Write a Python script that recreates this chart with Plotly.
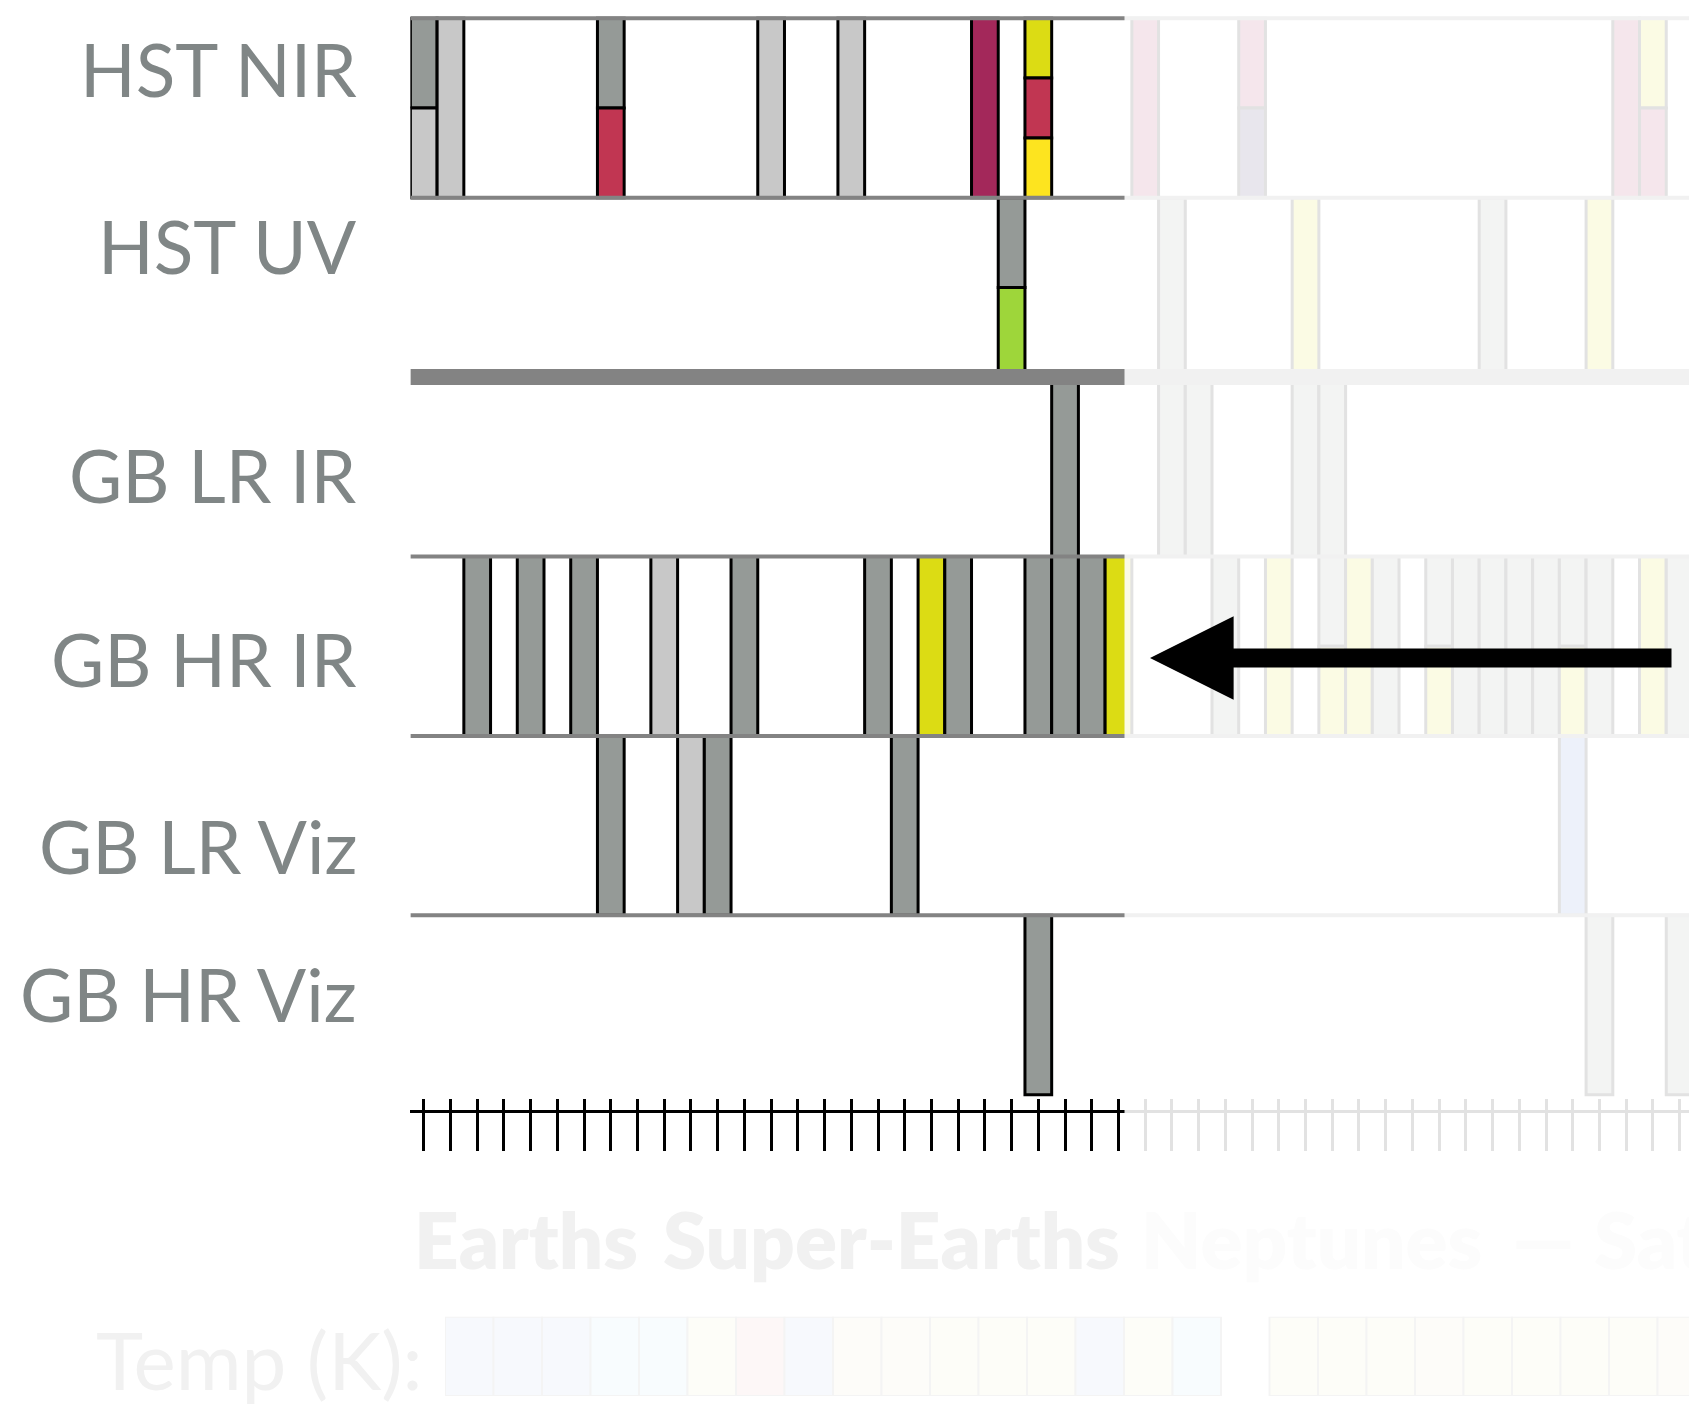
import plotly.graph_objects as go

# ---------------- data ----------------
ROW_LABELS = ["HST NIR", "HST UV", "GB LR IR", "GB HR IR", "GB LR Viz", "GB HR Viz"]
N_COLUMNS = 48
COLUMNS = list(range(N_COLUMNS))

# per row: occupied column indices and fill codes (stacked top -> bottom, "/" separated)
HST_NIR_COLS = [0, 1, 7, 13, 16, 21, 23, 27, 31, 45, 46]
HST_NIR_FILL = ["g/l", "l", "g/c", "l", "l", "m", "o/c/y", "m", "m/p", "m", "o/m"]

HST_UV_COLS = [22, 28, 33, 40, 44]
HST_UV_FILL = ["g/v", "g", "o", "g", "o"]

GB_LR_IR_COLS = [24, 28, 29, 33, 34]
GB_LR_IR_FILL = ["g", "g", "g", "g", "g"]

GB_HR_IR_COLS = [2, 4, 6, 9, 12, 17, 19, 20, 23, 24, 25, 26,
                 30, 32, 34, 35, 36, 38, 39, 40, 41, 42, 43, 44, 46, 47]
GB_HR_IR_FILL = ["g", "g", "g", "l", "g", "g", "o", "g", "g", "g", "g", "o",
                 "g", "o", "g/o", "o", "g", "g/o", "g", "g", "g", "g", "g/o", "g", "o", "g"]

GB_LR_VIZ_COLS = [7, 10, 11, 18, 43]
GB_LR_VIZ_FILL = ["g", "l", "g", "g", "b"]

GB_HR_VIZ_COLS = [23, 44, 47]
GB_HR_VIZ_FILL = ["g", "g", "g"]

ROWS = [
    (HST_NIR_COLS, HST_NIR_FILL),
    (HST_UV_COLS, HST_UV_FILL),
    (GB_LR_IR_COLS, GB_LR_IR_FILL),
    (GB_HR_IR_COLS, GB_HR_IR_FILL),
    (GB_LR_VIZ_COLS, GB_LR_VIZ_FILL),
    (GB_HR_VIZ_COLS, GB_HR_VIZ_FILL),
]

RULED_BOUNDARIES = [0, 1, 2, 3, 4, 5]
HEAVY_BOUNDARY = 2

CLASS_LABELS = ["Earths", "Super-Earths", "Neptunes", "—", "Saturns"]

TEMP_CLASS = ["cold", "cold", "cold", "cool", "cool", "mild", "hot", "cold",
              "warm", "warm", "mild", "mild", "mild", "cold", "mild", "cool",
              None, "mild", "mild", "mild", "warm", "mild", "mild", "mild", "mild", "warm"]

# ---------------- style ----------------
W, H = 1689, 1412
PALETTE = {
    "g": "#959a97", "l": "#c8c8c8", "c": "#c13652", "m": "#a3285a",
    "o": "#dcdc14", "y": "#fde41f", "v": "#9ed63a", "p": "#3a2a62", "b": "#6083d2",
}
TEMP_COLORS = {"cold": "#b8caed", "cool": "#c1e0f4", "mild": "#ededc1",
               "warm": "#ede4ca", "hot": "#edb8b8"}
LABEL_COLOR = "#808686"
FONT = "Lato"

PLOT_LEFT_PX = 410.4
COL_W_PX = 26.72
ROW_TOP_PX = 18.3
ROW_H_PX = 179.4
AXIS_PX = 1110.0
FADE_X_PX = 1124.5
FADE_Y_PX = 1170.0
LABEL_RIGHT_PX = 358.5
LABEL_OFFSET = [0.285, 0.27, 0.548, 0.573, 0.614, 0.44]
CLASS_X_PX = [412, 661, 1139, 1510, 1592]
CLASS_COLORS = ["#f1f1f1", "#f1f1f1", "#fcfcfc", "#fcfcfc", "#fcfcfc"]
CLASS_Y_PX = 1239
TEMP_LABEL_Y_PX = 1359
STRIP_LEFT_PX, STRIP_CELL_PX = 445.0, 48.5
STRIP_TOP_PX, STRIP_BOT_PX = 1316.7, 1396.0

x_lo = -0.5
x_hi = -0.5 + (W - PLOT_LEFT_PX) / COL_W_PX
y_top = -ROW_TOP_PX / ROW_H_PX
y_bot = (AXIS_PX - ROW_TOP_PX) / ROW_H_PX

fig = go.Figure()

# cells
xs, bases, hs, cols = [], [], [], []
for r, (cc, ff) in enumerate(ROWS):
    for c, f in zip(cc, ff):
        parts = f.split("/")
        n = len(parts)
        for k, p in enumerate(parts):
            xs.append(c)
            bases.append(r + k / n)
            hs.append(1.0 / n)
            cols.append(PALETTE[p])

fig.add_trace(go.Bar(
    x=xs, y=hs, base=bases, width=[1.0] * len(xs),
    marker=dict(color=cols, line=dict(color="black", width=3)),
    showlegend=False, hoverinfo="skip",
))

# row rules
for b in RULED_BOUNDARIES:
    fig.add_trace(go.Scatter(
        x=[x_lo, x_hi], y=[b, b], mode="lines",
        line=dict(color="#838383", width=16 if b == HEAVY_BOUNDARY else 4),
        showlegend=False, hoverinfo="skip",
    ))

# dummy trace for the upper tick half
fig.add_trace(go.Scatter(x=[None], y=[None], xaxis="x2", yaxis="y",
                         showlegend=False, hoverinfo="skip"))

# temperature strip
t_x = [i for i, t in enumerate(TEMP_CLASS) if t is not None]
t_c = [TEMP_COLORS[t] for t in TEMP_CLASS if t is not None]
fig.add_trace(go.Bar(
    x=t_x, y=[1] * len(t_x), base=[0] * len(t_x), width=[1.0] * len(t_x),
    marker=dict(color=t_c, line=dict(color="#a0a0a0", width=2)),
    xaxis="x3", yaxis="y3", showlegend=False, hoverinfo="skip",
))

main_dom_y = [1 - AXIS_PX / H, 1]
fig.update_layout(
    width=W, height=H,
    margin=dict(l=0, r=0, t=0, b=0),
    paper_bgcolor="white", plot_bgcolor="white",
    barmode="overlay",
    xaxis=dict(domain=[PLOT_LEFT_PX / W, 1], anchor="y", range=[x_lo, x_hi],
               tickvals=COLUMNS, ticks="outside", ticklen=38, tickwidth=3,
               tickcolor="black", showticklabels=False, showgrid=False,
               zeroline=False, showline=True, linewidth=3, linecolor="black"),
    xaxis2=dict(overlaying="x", anchor="y", side="bottom", range=[x_lo, x_hi],
                tickvals=COLUMNS, ticks="inside", ticklen=11, tickwidth=3,
                tickcolor="black", showticklabels=False, showgrid=False,
                zeroline=False, showline=False),
    yaxis=dict(domain=main_dom_y, anchor="x", range=[y_bot, y_top],
               showticklabels=False, showgrid=False, zeroline=False, ticks=""),
    xaxis3=dict(domain=[STRIP_LEFT_PX / W, 1], anchor="y3",
                range=[-0.5, -0.5 + (W - STRIP_LEFT_PX) / STRIP_CELL_PX],
                visible=False),
    yaxis3=dict(domain=[1 - STRIP_BOT_PX / H, 1 - STRIP_TOP_PX / H], anchor="x3",
                range=[0, 1], visible=False),
)

# fading overlays (right part of the chart, and the whole bottom band)
for x0, x1, y0, y1 in [(FADE_X_PX / W, 1, 1 - FADE_Y_PX / H, 1),
                       (0, 1, 0, 1 - FADE_Y_PX / H)]:
    fig.add_shape(type="rect", xref="paper", yref="paper", x0=x0, x1=x1, y0=y0, y1=y1,
                  fillcolor="white", opacity=0.886, line=dict(width=0), layer="above")

ann = []
for r, lab in enumerate(ROW_LABELS):
    ann.append(dict(text=lab, xref="paper", x=LABEL_RIGHT_PX / W, xanchor="right",
                    yref="y", y=r + LABEL_OFFSET[r], yanchor="middle", showarrow=False,
                    font=dict(family=FONT, size=73, color=LABEL_COLOR)))
for lab, xp, colr in zip(CLASS_LABELS, CLASS_X_PX, CLASS_COLORS):
    ann.append(dict(text=lab, xref="paper", x=xp / W, xanchor="left",
                    yref="paper", y=1 - CLASS_Y_PX / H, yanchor="middle", showarrow=False,
                    font=dict(family=FONT, size=78, color=colr, weight=800)))
ann.append(dict(text="Temp (K):", xref="paper", x=425 / W, xanchor="right",
                yref="paper", y=1 - TEMP_LABEL_Y_PX / H, yanchor="middle", showarrow=False,
                font=dict(family=FONT, size=80, color="#f1f1f1")))
# pointer arrow
ann.append(dict(text="", xref="paper", yref="paper", x=1150 / W, y=1 - 658 / H,
                ax=523, ay=0, showarrow=True, arrowhead=2, arrowsize=0.88,
                arrowwidth=19, arrowcolor="black"))
fig.update_layout(annotations=ann)

fig.write_html("out.html", config={"displayModeBar": False},
               post_script="document.body.style.margin='0px';")
